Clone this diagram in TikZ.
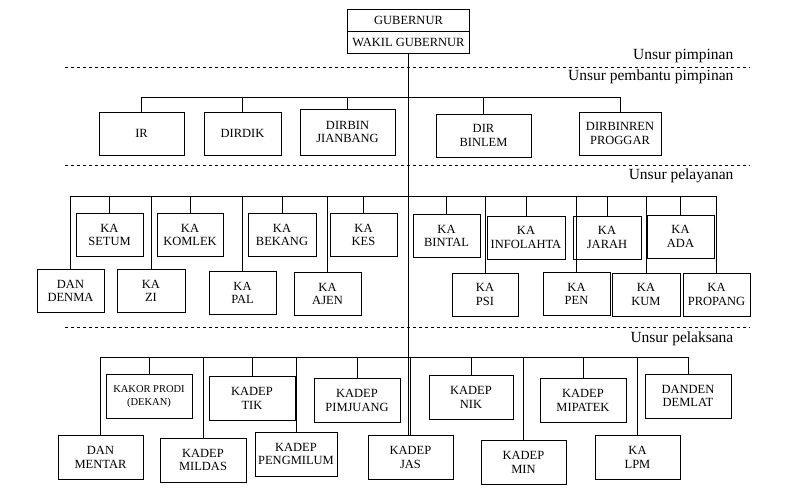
\documentclass[tikz,border=0pt]{standalone}
\usepackage{fontspec}
\setmainfont{Liberation Serif}
\begin{document}
\begin{tikzpicture}[x=1pt,y=-1pt,semithick,
  box/.style={draw,thick,text centered,rectangle,inner sep=1pt,align=center,font={\fontsize{12.5}{13.5}\selectfont}},
  part/.style={font={\fontsize{15.5}{16}\selectfont},anchor=east},
  sep/.style={dashed,thin}]
\useasboundingbox (0,0) rectangle (792,503);

% top
\node[box,minimum width=122pt,minimum height=22pt] (gub) at (408.5,20) {GUBERNUR};
\node[box,minimum width=122pt,minimum height=22pt] (wagub) at (408.5,42) {WAKIL GUBERNUR};
\coordinate (bottom) at (408.5,435);
\draw[thick] (wagub.south) -- (bottom);

% dashed lines and labels
\draw[sep] (65,67) -- (750,67);
\draw[sep] (65,165) -- (750,165);
\draw[sep] (65,327) -- (750,327);
\node[part] (p1) at (737,56) {Unsur pimpinan};
\node[part] (p2) at (737,77) {Unsur pembantu pimpinan};
\node[part] (p3) at (737,176) {Unsur pelayanan};
\node[part] (p4) at (737,339) {Unsur pelaksana};

% unsur pembantu pimpinan
\coordinate (busA) at (0,97);
\draw (141.5,97) -- (620,97);
\node[box,minimum width=85pt,minimum height=43pt] (ir) at (141.5,133.5) {IR};
\node[box,minimum width=77pt,minimum height=43pt] (dirdik) at (242.5,133.5) {DIRDIK};
\node[box,minimum width=95pt,minimum height=46pt] (dirbin) at (347.5,132) {DIRBIN\\JIANBANG};
\node[box,minimum width=95pt,minimum height=43pt] (dirbinlem) at (483.5,135.5) {DIR\\BINLEM};
\node[box,minimum width=82pt,minimum height=43pt] (dirbinren) at (620,133.5) {DIRBINREN\\PROGGAR};
\foreach \n in {ir,dirdik,dirbin,dirbinlem,dirbinren}
  \draw (\n.north) -- (\n.north |- busA);

% unsur pelayanan
\coordinate (busB) at (0,196);
\draw (70.5,196) -- (716.5,196);
\foreach \n/\x/\y/\w/\t in {
  setum/109.5/235/67/{KA\\SETUM}, komlek/190/235/66/{KA\\KOMLEK},
  bekang/282/235/68/{KA\\BEKANG}, kes/363.5/235/67/{KA\\KES},
  bintal/446.5/236/67/{KA\\BINTAL}, infolahta/526/237.5/78/{KA\\INFOLAHTA},
  jarah/607/237.5/68/{KA\\JARAH}, ada/680.5/236.5/67/{KA\\ADA},
  denma/70.5/291/67/{DAN\\DENMA}, zi/151/291/68/{KA\\ZI},
  pal/242.5/293/67/{KA\\PAL}, ajen/327.5/294/67/{KA\\AJEN},
  psi/485/294.5/66/{KA\\PSI}, pen/576.5/294/67/{KA\\PEN},
  kum/646/294.5/68/{KA\\KUM}, propang/716.5/294.5/67/{KA\\PROPANG}}
{
  \node[box,minimum width=\w pt,minimum height=43pt] (\n) at (\x,\y) {\t};
  \draw (\n.north) -- (\n.north |- busB);
}

% unsur pelaksana
\coordinate (busC) at (0,357);
\draw (100.5,357) -- (688,357);
\foreach \n/\x/\y/\w/\t in {
  kakor/149/396.5/86/{\fontsize{10.5}{12}\selectfont KAKOR PRODI\\\fontsize{10.5}{12}\selectfont(DEKAN)},
  tik/252/398.5/86/{KADEP\\TIK}, pimjuang/357/400.5/86/{KADEP\\PIMJUANG},
  nik/471/397.5/84/{KADEP\\NIK}, mipatek/583/400.5/86/{KADEP\\MIPATEK},
  danden/688/396/86/{DANDEN\\DEMLAT},
  mentar/100.5/457.5/85/{DAN\\MENTAR}, mildas/203/460/86/{KADEP\\MILDAS},
  pengmilum/296/454/82/{KADEP\\PENGMILUM}, jas/410.5/457.5/85/{KADEP\\JAS},
  min/523.5/462.5/85/{KADEP\\MIN}, lpm/637.5/457.5/85/{KA\\LPM}}
{
  \node[box,minimum width=\w pt,minimum height=44pt] (\n) at (\x,\y) {\t};
  \draw (\n.north) -- (\n.north |- busC);
}
\end{tikzpicture}
\end{document}
